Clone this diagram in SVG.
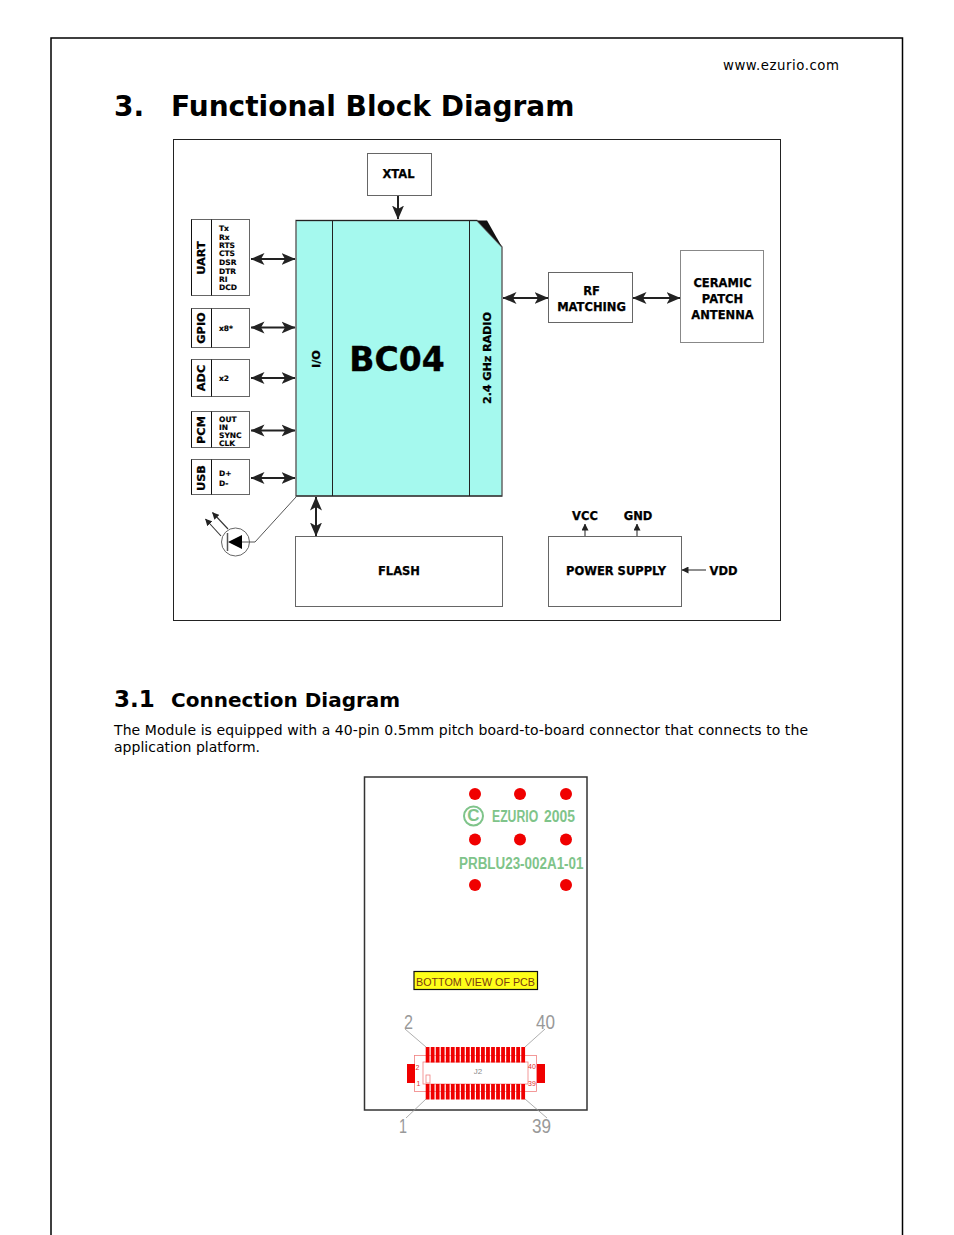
<svg xmlns="http://www.w3.org/2000/svg" width="954" height="1235" viewBox="0 0 954 1235">
<style>
text{font-family:"DejaVu Sans",Verdana,sans-serif;fill:#000}
.b{font-weight:bold}
.n{fill:#fff;stroke:#666;stroke-width:1}
.l{font-weight:bold;font-size:11.5px;text-anchor:middle;stroke:#000;stroke-width:.25}
.s{font-weight:bold;font-size:7.500px;stroke:#000;stroke-width:.15}
.v{font-weight:bold;font-size:11.300px;text-anchor:middle;stroke:#000;stroke-width:.25}
.c{fill:none;stroke:#222;stroke-width:2}
.t{fill:none;stroke:#333;stroke-width:1.100}
.d{fill:#f00000}
.g{font-family:"Liberation Sans",sans-serif;font-weight:bold;fill:#7fc48a;font-size:17px}
.p{fill:none;stroke:#f08080;stroke-width:.8}
.k{font-family:"Liberation Sans",sans-serif;fill:#999;font-size:21px}
.r{font-family:"Liberation Sans",sans-serif;fill:#e03030;font-size:7px}
</style>
<defs>
<marker id="a" viewBox="0 0 14 14" refX="13.5" refY="7" markerWidth="14" markerHeight="14" orient="auto-start-reverse" markerUnits="userSpaceOnUse"><path d="M0 1L14 7L0 13L3.500 7Z" fill="#222"/></marker>
<marker id="m" viewBox="0 0 7 7" refX="6.500" refY="3.500" markerWidth="7" markerHeight="7" orient="auto" markerUnits="userSpaceOnUse"><path d="M0 0L7 3.500L0 7Z" fill="#222"/></marker>
<rect id="pin" width="3.800" height="15.500" fill="#f00000"/>
<g id="row"><use href="#pin" x="0"/><use href="#pin" x="5.03"/><use href="#pin" x="10.06"/><use href="#pin" x="15.09"/><use href="#pin" x="20.12"/><use href="#pin" x="25.15"/><use href="#pin" x="30.18"/><use href="#pin" x="35.21"/><use href="#pin" x="40.24"/><use href="#pin" x="45.27"/><use href="#pin" x="50.3"/><use href="#pin" x="55.33"/><use href="#pin" x="60.36"/><use href="#pin" x="65.39"/><use href="#pin" x="70.42"/><use href="#pin" x="75.45"/><use href="#pin" x="80.48"/><use href="#pin" x="85.51"/><use href="#pin" x="90.54"/><use href="#pin" x="95.57"/></g>
</defs>
<rect width="954" height="1235" fill="#fff"/>
<path d="M51 1235V38H902.500V1235" fill="none" stroke="#000" stroke-width="1.500"/>
<text x="723" y="70" font-size="13.300" textLength="116" fill="#222">www.ezurio.com</text>
<text class="b" x="114" y="116" font-size="28">3.</text>
<text class="b" x="171" y="116" font-size="28">Functional Block Diagram</text>
<rect x="173.500" y="139.500" width="607" height="481" fill="#fff" stroke="#222"/>

<g id="xtal"><rect class="n" x="367.500" y="153.500" width="64" height="42"/><text class="l" x="398.500" y="177.500">XTAL</text></g>
<g id="bc04">
<path d="M296 220.500H477L502 247V496H296Z" fill="#a5f9ee" stroke="#666" stroke-width="1.500"/>
<path d="M296 220.500H477M296 496H502" stroke="#222" fill="none"/>
<path d="M477 220.500H487L502 247Z" fill="#111"/>
<path d="M332.500 221V496M469.500 221V496" stroke="#222" fill="none"/>
<text class="b" x="397" y="371" font-size="33" text-anchor="middle" stroke="#000" stroke-width=".4">BC04</text>
<text class="v" transform="translate(320 359) rotate(-90)">I/O</text>
<text class="v" transform="translate(491 358) rotate(-90)" textLength="92">2.4 GHz RADIO</text>
</g>
<g id="uart"><rect class="n" x="191.500" y="219.500" width="58" height="76"/><path d="M191.500 219.500V295.500M211.500 219.500V295.500" stroke="#111"/><text class="v" transform="translate(205 258) rotate(-90)">UART</text>
<text class="s" x="219" y="231">Tx</text><text class="s" x="219" y="240">Rx</text><text class="s" x="219" y="248">RTS</text><text class="s" x="219" y="256">CTS</text><text class="s" x="219" y="265">DSR</text><text class="s" x="219" y="274">DTR</text><text class="s" x="219" y="282">RI</text><text class="s" x="219" y="290">DCD</text></g>
<g id="gpio"><rect class="n" x="191.500" y="308.500" width="58" height="39"/><path d="M191.500 308.500V347.500M211.500 308.500V347.500" stroke="#111"/><text class="v" transform="translate(205 328) rotate(-90)">GPIO</text><text class="s" x="219" y="331">x8*</text></g>
<g id="adc"><rect class="n" x="191.500" y="359.500" width="58" height="37"/><path d="M191.500 359.500V396.500M211.500 359.500V396.500" stroke="#111"/><text class="v" transform="translate(205 378) rotate(-90)">ADC</text><text class="s" x="219" y="380.500">x2</text></g>
<g id="pcm"><rect class="n" x="191.500" y="411.500" width="58" height="36"/><path d="M191.500 411.500V447.500M211.500 411.500V447.500" stroke="#111"/><text class="v" transform="translate(205 430) rotate(-90)">PCM</text>
<text class="s" x="219" y="422">OUT</text><text class="s" x="219" y="429.500">IN</text><text class="s" x="219" y="438">SYNC</text><text class="s" x="219" y="446">CLK</text></g>
<g id="usb"><rect class="n" x="191.500" y="459.500" width="58" height="35"/><path d="M191.500 459.500V494.500M211.500 459.500V494.500" stroke="#111"/><text class="v" transform="translate(205 478) rotate(-90)">USB</text>
<text class="s" x="219" y="476">D+</text><text class="s" x="219" y="485.500">D-</text></g>
<g id="led"><circle cx="235.500" cy="542" r="14" fill="#fff" stroke="#666"/><path d="M228 542L242 535V549Z" fill="#000"/><path d="M227.500 533V551" stroke="#555" stroke-width="1.500"/><path d="M242 542H255L296 497" fill="none" stroke="#555"/></g>
<g id="flash"><rect class="n" x="295.500" y="536.500" width="207" height="70"/><text class="l" x="399" y="574.500">FLASH</text></g>
<g id="rf"><rect class="n" x="548.500" y="272.500" width="84" height="50"/><text class="l" x="591.500" y="295">RF</text><text class="l" x="591.500" y="310.500">MATCHING</text></g>
<g id="antenna"><rect x="680.500" y="250.500" width="83" height="92" fill="#fff" stroke="#888"/><text class="l" x="722.500" y="286.500">CERAMIC</text><text class="l" x="722.500" y="302.500">PATCH</text><text class="l" x="722.500" y="318.500">ANTENNA</text></g>
<g id="power"><rect class="n" x="548.500" y="536.500" width="133" height="70"/><text class="l" x="616" y="574.500">POWER SUPPLY</text></g>
<g id="labels"><text class="l" x="585" y="520">VCC</text><text class="l" x="638" y="520">GND</text><text class="l" x="723.500" y="574.500">VDD</text></g>

<g id="connectors">
<path class="c" d="M398 196V219" marker-end="url(#a)"/>
<path class="c" d="M251 259H295" marker-start="url(#a)" marker-end="url(#a)"/>
<path class="c" d="M251 327.500H295" marker-start="url(#a)" marker-end="url(#a)"/>
<path class="c" d="M251 378H295" marker-start="url(#a)" marker-end="url(#a)"/>
<path class="c" d="M251 430.500H295" marker-start="url(#a)" marker-end="url(#a)"/>
<path class="c" d="M251 478H295" marker-start="url(#a)" marker-end="url(#a)"/>
<path class="c" d="M316 497V536" marker-start="url(#a)" marker-end="url(#a)"/>
<path class="c" d="M503 298H548" marker-start="url(#a)" marker-end="url(#a)"/>
<path class="c" d="M633 298H680" marker-start="url(#a)" marker-end="url(#a)"/>
<path class="t" d="M585 536V524" marker-end="url(#m)"/>
<path class="t" d="M637 536V524" marker-end="url(#m)"/>
<path class="t" d="M706 570H682" marker-end="url(#m)"/>
<path class="t" d="M221 536L205.500 519" marker-end="url(#m)"/>
<path class="t" d="M228 529L212.500 512.500" marker-end="url(#m)"/>
</g>

<text class="b" x="114" y="707" font-size="23">3.1</text>
<text class="b" x="171" y="707" font-size="20">Connection Diagram</text>
<text x="114" y="735" font-size="14" textLength="694" fill="#222">The Module is equipped with a 40-pin 0.5mm pitch board-to-board connector that connects to the</text>
<text x="114" y="752" font-size="14" textLength="146" fill="#222">application platform.</text>

<g id="pcb">
<rect x="364.500" y="777" width="222.500" height="333" fill="#fff" stroke="#333" stroke-width="1.500"/>
<g class="d"><circle cx="475" cy="794" r="6"/><circle cx="520" cy="794" r="6"/><circle cx="566" cy="794" r="6"/><circle cx="475" cy="839.500" r="6"/><circle cx="520" cy="839.500" r="6"/><circle cx="566" cy="839.500" r="6"/><circle cx="475" cy="885" r="6"/><circle cx="566" cy="885" r="6"/></g>
<circle cx="473.500" cy="816" r="9.500" fill="none" stroke="#7fc48a" stroke-width="2"/>
<text class="g" x="473.500" y="821" text-anchor="middle" font-size="13">C</text>
<text class="g" transform="translate(492 822) scale(.72 1)">EZURIO</text>
<text class="g" transform="translate(544 822) scale(.82 1)">2005</text>
<text class="g" transform="translate(459 869) scale(.79 1)">PRBLU23-002A1-01</text>
<rect x="414" y="971.500" width="123.500" height="18" fill="#ffff19" stroke="#111" stroke-width="1.200"/>
<text x="416" y="985.500" style="font-family:'Liberation Sans',sans-serif;font-size:11.500px;fill:#7a3a10" textLength="119" lengthAdjust="spacingAndGlyphs">BOTTOM VIEW OF PCB</text>
<g id="j2">
<rect class="p" x="414.500" y="1055.500" width="122" height="36"/>
<rect class="p" x="423" y="1062" width="105" height="22"/>
<rect x="407" y="1064" width="8" height="19" fill="#f00000"/>
<rect x="537" y="1064" width="8" height="19" fill="#f00000"/>
<use href="#row" x="425.700" y="1047"/>
<use href="#row" x="425.700" y="1084"/>
<rect class="p" x="426" y="1075" width="4" height="8"/>
<text class="r" x="415.500" y="1070">2</text><text class="r" x="416.500" y="1086">1</text><text class="r" x="528" y="1069">40</text><text class="r" x="528" y="1086">39</text>
<text x="478" y="1074" text-anchor="middle" style="font-family:'Liberation Sans',sans-serif;font-size:8px;fill:#888">J2</text>
<path d="M405 1029L426 1047M545 1029L525 1047M406 1118L426 1099M547 1118L525 1099" fill="none" stroke="#999" stroke-width=".8"/>
<text class="k" x="404" y="1029" textLength="9" lengthAdjust="spacingAndGlyphs">2</text><text class="k" x="536" y="1029" textLength="19" lengthAdjust="spacingAndGlyphs">40</text><text class="k" x="399" y="1133" textLength="8" lengthAdjust="spacingAndGlyphs">1</text><text class="k" x="532" y="1133" textLength="19" lengthAdjust="spacingAndGlyphs">39</text>
</g>
</g>
</svg>
